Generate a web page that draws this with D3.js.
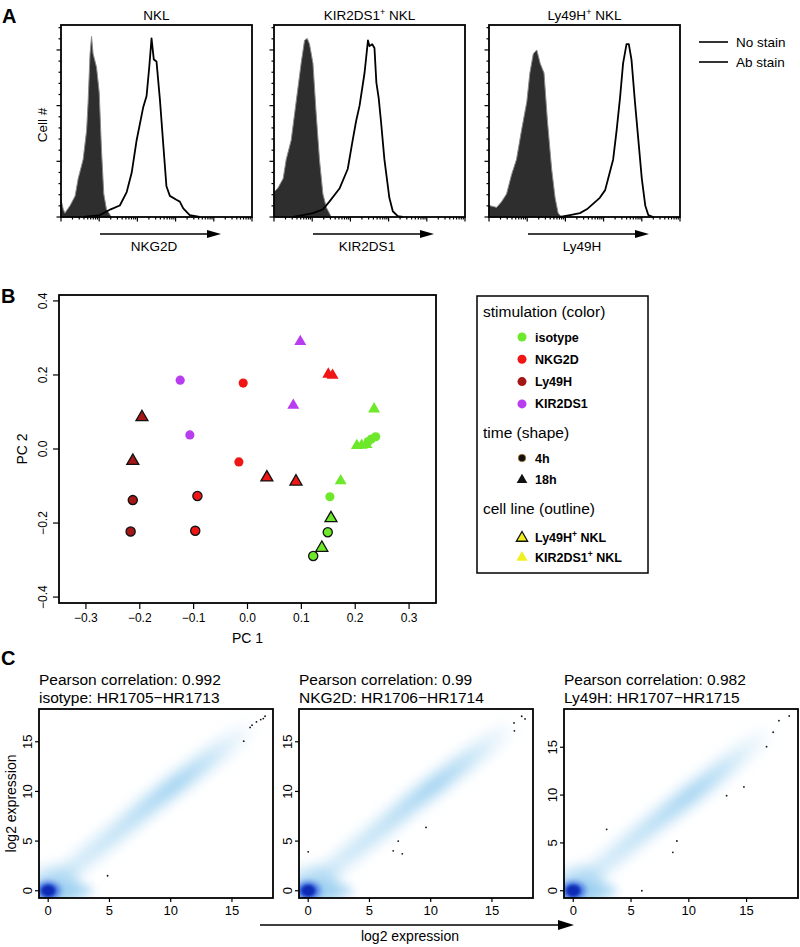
<!DOCTYPE html>
<html><head><meta charset="utf-8">
<script src="https://cdn.jsdelivr.net/npm/d3@7"></script>
<style>body{margin:0;background:#fff}svg{display:block;font-family:"Liberation Sans",Arial,Helvetica,sans-serif}</style>
</head><body><svg id="c" width="800" height="947"></svg>
<script>
// ---------------- DATA ----------------
// Panel A : flow histograms, x in decades (0..5), y in % of panel height
const histTitles = [["NKL",""],["KIR2DS1","+"],["Ly49H","+"]];
const histMarkers = ["NKG2D","KIR2DS1","Ly49H"];
const noStainNKL = [[0,9],[0.06,4],[0.1,2],[0.24,6],[0.37,11],[0.45,20],[0.58,30],[0.67,45],[0.71,60],[0.76,85],[0.8,94],[0.84,85],[0.93,78],[1.0,65],[1.06,35],[1.12,12],[1.19,4],[1.32,0]];
const abStainNKL = [[0.6,0],[1.02,1],[1.3,4],[1.54,6],[1.72,13],[1.85,23],[1.98,40],[2.15,57],[2.24,63],[2.31,78],[2.37,93],[2.43,82],[2.5,81],[2.59,61],[2.68,37],[2.76,16],[2.85,11],[3.02,9],[3.11,8],[3.2,4.5],[3.37,1],[3.63,0]];
const noStainKIR = [[0,13],[0.1,15],[0.24,20],[0.32,30],[0.45,40],[0.58,60],[0.71,80],[0.8,92],[0.87,93],[0.93,90],[1.02,80],[1.1,55],[1.19,30],[1.28,12],[1.37,5],[1.5,0]];
const abStainKIR = [[0.5,0],[0.76,1],[1.02,2],[1.28,4],[1.45,8],[1.72,15],[1.93,25],[2.06,40],[2.15,50],[2.24,58],[2.37,75],[2.46,92],[2.5,89],[2.57,90],[2.63,88],[2.68,70],[2.74,62],[2.8,50],[2.89,30],[3.02,10],[3.11,3],[3.24,0.5],[3.37,0]];
const noStainLy = [[0,6],[0.2,5],[0.33,8],[0.46,12],[0.59,22],[0.72,30],[0.85,45],[0.99,60],[1.07,75],[1.16,85],[1.25,87],[1.34,80],[1.44,75],[1.53,50],[1.64,25],[1.73,10],[1.81,2],[1.9,0]];
const abStainLy = [[1.86,0],[2.12,1],[2.38,2],[2.56,4],[2.73,7],[2.9,10],[3.04,14],[3.12,20],[3.25,30],[3.34,45],[3.43,62],[3.51,80],[3.6,90],[3.66,90],[3.73,82],[3.82,60],[3.91,40],[4.0,20],[4.09,6],[4.17,1],[4.3,0]];
const noStainSeries = [noStainNKL, noStainKIR, noStainLy];
const abStainSeries = [abStainNKL, abStainKIR, abStainLy];
const histLegend = ["No stain","Ab stain"];

// Panel B : PCA
const pc1 = [-0.125,-0.107,0.098,0.085,-0.008,-0.016,0.150,0.158,-0.093,-0.097,0.036,0.090,-0.213,-0.217,-0.196,-0.213,0.149,0.122,0.155,0.138,0.153,0.173,0.235,0.203,0.212,0.221,0.224,0.230,0.238];
const pc2 = [0.186,0.038,0.290,0.118,0.178,-0.035,0.202,0.199,-0.127,-0.221,-0.077,-0.088,-0.138,-0.223,0.086,-0.032,-0.225,-0.289,-0.187,-0.267,-0.129,-0.086,0.108,0.009,0.010,0.012,0.020,0.027,0.033];
const stim = ["KIR2DS1","KIR2DS1","KIR2DS1","KIR2DS1","NKG2D","NKG2D","NKG2D","NKG2D","NKG2D","NKG2D","NKG2D","NKG2D","Ly49H","Ly49H","Ly49H","Ly49H","isotype","isotype","isotype","isotype","isotype","isotype","isotype","isotype","isotype","isotype","isotype","isotype","isotype"];
const time = ["4h","4h","18h","18h","4h","4h","18h","18h","4h","4h","18h","18h","4h","4h","18h","18h","4h","4h","18h","18h","4h","18h","18h","18h","18h","18h","4h","4h","4h"];
const cellLine = ["KIR","KIR","KIR","KIR","KIR","KIR","KIR","KIR","Ly","Ly","Ly","Ly","Ly","Ly","Ly","Ly","Ly","Ly","Ly","Ly","KIR","KIR","KIR","KIR","KIR","KIR","KIR","KIR","KIR"];
const stimLevels = ["isotype","NKG2D","Ly49H","KIR2DS1"];
const stimColors = ["#6ee82a","#f01616","#a51616","#b83cf0"];
const pcTicks = [-0.3,-0.2,-0.1,0.0,0.1,0.2,0.3];
const pc2Ticks = [-0.4,-0.2,0.0,0.2,0.4];

// Panel C : smoothScatter
const corrTitles = ["Pearson correlation: 0.992","Pearson correlation: 0.99","Pearson correlation: 0.982"];
const pairTitles = ["isotype: HR1705\u2212HR1713","NKG2D: HR1706\u2212HR1714","Ly49H: HR1707\u2212HR1715"];
const ssTicks = [0,5,10,15];
// density ridge: [x, y, relative intensity]
const ridge1 = [[0.6,0.8,0.4],[3,3.3,0.42],[6,6.3,0.55],[8.5,8.9,0.72],[10.3,10.6,0.85],[12.5,12.7,0.62],[15,15.1,0.25],[16.8,16.8,0.0]];
const ridge2 = [[0.6,0.8,0.4],[3,3.3,0.42],[6,6.3,0.55],[8.5,8.9,0.72],[10.3,10.6,0.85],[12.5,12.7,0.62],[15,15.1,0.25],[16.8,16.8,0.0]];
const ridge3 = [[0.6,0.7,0.4],[3,3.1,0.42],[6,6.1,0.55],[8.5,8.5,0.72],[10.2,10.1,0.82],[12.5,12.3,0.6],[15,14.8,0.25],[17.3,17.0,0.0]];
const ridges = [ridge1, ridge2, ridge3];
const outliers1 = [[4.85,1.51],[15.96,15.06],[16.48,16.44],[16.64,16.67],[17.0,17.0],[17.35,17.24],[17.7,17.57],[17.56,17.34]];
const outliers2 = [[0,3.92],[6.94,4.02],[7.35,5.0],[7.68,3.72],[9.62,6.38],[16.8,16.9],[16.83,16.1],[17.43,17.57],[17.7,17.3]];
const outliers3 = [[2.89,6.42],[5.94,0.0],[8.62,4.02],[8.97,5.2],[13.27,9.94],[14.77,10.85],[16.73,15.06],[17.3,16.57],[17.8,17.78],[18.69,18.27]];
const outliers = [outliers1, outliers2, outliers3];
const ssXDomains = [[-0.75,18.35],[-0.75,18.35],[-0.8,19.45]];
const ssYDomains = [[-0.73,18.3],[-0.73,18.3],[-0.76,19.0]];

// ---------------- DRAW ----------------
const svg = d3.select("#c");
const defs = svg.append("defs");
function blur(id, sd){
  const f = defs.append("filter").attr("id",id).attr("x","-100%").attr("y","-100%").attr("width","300%").attr("height","300%");
  f.append("feGaussianBlur").attr("stdDeviation",sd);
}
blur("b7",7); blur("b5",5); blur("b3",3); blur("b2",1.8);

function panelLabel(t,x,y){
  svg.append("text").attr("x",x).attr("y",y).attr("font-size",20).attr("font-weight","bold").text(t);
}
panelLabel("A",2,23); panelLabel("B",1,303); panelLabel("C",1,665);

// ===== Panel A =====
const aLefts = [61,274,489], aW = 191, aTop = 25, aBot = 217;
aLefts.forEach((L,i)=>{
  const g = svg.append("g");
  const x = d3.scaleLinear().domain([0,5]).range([L,L+aW]);
  const y = d3.scaleLinear().domain([0,100]).range([aBot,aTop]);
  g.append("path").datum(noStainSeries[i])
    .attr("d",d3.area().x(d=>x(d[0])).y0(y(0)).y1(d=>y(d[1])))
    .attr("fill","#2e2e2e").attr("stroke","#8a8a8a").attr("stroke-width",1);
  g.append("path").datum(abStainSeries[i])
    .attr("d",d3.line().x(d=>x(d[0])).y(d=>y(d[1])))
    .attr("fill","none").attr("stroke","#000").attr("stroke-width",1.8).attr("stroke-linejoin","round");
  g.append("rect").attr("x",L).attr("y",aTop).attr("width",aW).attr("height",aBot-aTop)
    .attr("fill","none").attr("stroke","#000").attr("stroke-width",1.8);
  const xt = [];
  for(let d=0; d<5; d++) for(let k=1;k<10;k++) xt.push({v:d+Math.log10(k),maj:k===1});
  xt.push({v:5,maj:true});
  g.selectAll(null).data(xt).enter().append("line")
    .attr("x1",d=>x(d.v)).attr("x2",d=>x(d.v)).attr("y1",aBot).attr("y2",d=>aBot+(d.maj?4.5:2.5))
    .attr("stroke","#000").attr("stroke-width",1.2);
  const yt = d3.range(0,18).map(k=>({v:k*5.8,maj:k%5===0}));
  g.selectAll(null).data(yt).enter().append("line")
    .attr("x1",L).attr("x2",d=>L-(d.maj?4.5:2.5)).attr("y1",d=>y(d.v)).attr("y2",d=>y(d.v))
    .attr("stroke","#000").attr("stroke-width",1.2);
  const tt = g.append("text").attr("x",L+aW/2).attr("y",20).attr("text-anchor","middle").attr("font-size",13.5);
  tt.append("tspan").text(histTitles[i][0]);
  if(histTitles[i][1]){
    tt.append("tspan").attr("dy",-5).attr("font-size",9).text(histTitles[i][1]);
    tt.append("tspan").attr("dy",5).text(" NKL");
  }
  g.append("line").attr("x1",L+39).attr("x2",L+148).attr("y1",234).attr("y2",234).attr("stroke","#000").attr("stroke-width",1.6);
  g.append("path").attr("d",`M${L+146},230L${L+160},234L${L+146},238Z`).attr("fill","#000");
  g.append("text").attr("x",L+93).attr("y",251).attr("text-anchor","middle").attr("font-size",13.5).text(histMarkers[i]);
});
svg.append("text").attr("transform","translate(47,125) rotate(-90)").attr("text-anchor","middle").attr("font-size",13.5).text("Cell #");
histLegend.forEach((t,i)=>{
  const yy = 42+i*20;
  svg.append("line").attr("x1",699).attr("x2",728).attr("y1",yy).attr("y2",yy).attr("stroke","#000").attr("stroke-width",1.6);
  svg.append("text").attr("x",736).attr("y",yy+4.5).attr("font-size",13.5).text(t);
});

// ===== Panel B =====
const bx = d3.scaleLinear().domain([-0.35,0.35]).range([59,436]);
const by = d3.scaleLinear().domain([-0.416,0.416]).range([603,295]);
const col = d3.scaleOrdinal().domain(stimLevels).range(stimColors);
const fmt = v => (v<0?"\u2212":"")+Math.abs(v).toFixed(1);
svg.append("g").selectAll(null).data(pcTicks).enter().append("line")
  .attr("x1",d=>bx(d)).attr("x2",d=>bx(d)).attr("y1",603).attr("y2",609).attr("stroke","#000").attr("stroke-width",1.2);
svg.append("g").selectAll(null).data(pcTicks).enter().append("text")
  .attr("x",d=>bx(d)).attr("y",622).attr("text-anchor","middle").attr("font-size",12).text(fmt);
svg.append("g").selectAll(null).data(pc2Ticks).enter().append("line")
  .attr("x1",59).attr("x2",53).attr("y1",d=>by(d)).attr("y2",d=>by(d)).attr("stroke","#000").attr("stroke-width",1.2);
svg.append("g").selectAll(null).data(pc2Ticks).enter().append("text")
  .attr("transform",d=>`translate(47,${by(d)}) rotate(-90)`).attr("text-anchor","middle").attr("font-size",12).text(fmt);
svg.append("text").attr("x",bx(0)).attr("y",643).attr("text-anchor","middle").attr("font-size",14).text("PC 1");
svg.append("text").attr("transform",`translate(27,${by(0)}) rotate(-90)`).attr("text-anchor","middle").attr("font-size",14).text("PC 2");
const pts = pc1.map((v,i)=>({x:v,y:pc2[i],s:stim[i],t:time[i],l:cellLine[i]}));
const sym = d => d.t==="4h" ? d3.symbol(d3.symbolCircle,66)() : d3.symbol(d3.symbolTriangle,62)();
svg.append("g").selectAll(null).data(pts).enter().append("path")
  .attr("transform",d=>`translate(${bx(d.x)},${by(d.y)})`)
  .attr("d",sym).attr("fill",d=>col(d.s))
  .attr("stroke",d=>d.l==="Ly"?"#111":"none").attr("stroke-width",1.3);
svg.append("rect").attr("x",59).attr("y",295).attr("width",377).attr("height",308).attr("fill","none").attr("stroke","#000").attr("stroke-width",1.8);

// legend B
const lg = svg.append("g");
lg.append("rect").attr("x",477).attr("y",296).attr("width",171).attr("height",277).attr("fill","none").attr("stroke","#000").attr("stroke-width",1.5);
const hdr = (t,y)=>lg.append("text").attr("x",483).attr("y",y).attr("font-size",15.5).text(t);
hdr("stimulation (color)",317);
stimLevels.forEach((s,i)=>{
  const yy = 337+i*22.3;
  lg.append("circle").attr("cx",522).attr("cy",yy).attr("r",4.5).attr("fill",stimColors[i]);
  lg.append("text").attr("x",535).attr("y",yy+4.5).attr("font-size",12.5).attr("font-weight","bold").text(s);
});
hdr("time (shape)",438);
lg.append("circle").attr("cx",522).attr("cy",458).attr("r",3.8).attr("fill","#111").attr("stroke","#c58a2a").attr("stroke-width",0.6);
lg.append("text").attr("x",535).attr("y",462.5).attr("font-size",12.5).attr("font-weight","bold").text("4h");
lg.append("path").attr("transform","translate(522,480)").attr("d",d3.symbol(d3.symbolTriangle,50)()).attr("fill","#111");
lg.append("text").attr("x",535).attr("y",484).attr("font-size",12.5).attr("font-weight","bold").text("18h");
hdr("cell line (outline)",514);
[["Ly49H",true],["KIR2DS1",false]].forEach((c,i)=>{
  const yy = 537+i*19.5;
  lg.append("path").attr("transform",`translate(522,${yy+1})`).attr("d",d3.symbol(d3.symbolTriangle,55)())
    .attr("fill","#f0f020").attr("stroke",c[1]?"#111":"none").attr("stroke-width",1.3);
  const t = lg.append("text").attr("x",535).attr("y",yy+5).attr("font-size",12.5).attr("font-weight","bold");
  t.append("tspan").text(c[0]);
  t.append("tspan").attr("dy",-5).attr("font-size",8.5).text("+");
  t.append("tspan").attr("dy",5).text(" NKL");
});

// ===== Panel C =====
const cLefts = [39,299,564], cW = 234, cTop = 709, cBot = 898;
cLefts.forEach((L,i)=>{
  const x = d3.scaleLinear().domain(ssXDomains[i]).range([L,L+cW]);
  const y = d3.scaleLinear().domain(ssYDomains[i]).range([cBot,cTop]);
  const cid = "clip"+i;
  defs.append("clipPath").attr("id",cid).append("rect").attr("x",L).attr("y",cTop).attr("width",cW).attr("height",cBot-cTop);
  const g = svg.append("g").attr("clip-path",`url(#${cid})`);
  const rp = ridges[i].map(d=>[x(d[0]),y(d[1]),d[2]]);
  const s = rp[0], e = rp[rp.length-1];
  const vx = e[0]-s[0], vy = e[1]-s[1], vl = vx*vx+vy*vy;
  const gid = "rg"+i;
  const grad = defs.append("linearGradient").attr("id",gid).attr("gradientUnits","userSpaceOnUse")
    .attr("x1",s[0]).attr("y1",s[1]).attr("x2",e[0]).attr("y2",e[1]);
  rp.forEach(p=>{
    grad.append("stop").attr("offset",((p[0]-s[0])*vx+(p[1]-s[1])*vy)/vl)
      .attr("stop-color","#8fcaee").attr("stop-opacity",p[2]);
  });
  g.append("path").attr("d",d3.line()(rp.map(p=>[p[0],p[1]]))).attr("fill","none")
    .attr("stroke",`url(#${gid})`).attr("stroke-width",18).attr("filter","url(#b7)");
  const ox = x(0), oy = y(0);
  g.append("ellipse").attr("cx",ox+6).attr("cy",oy-3).attr("rx",26).attr("ry",20).attr("fill","#9cd0f0").attr("opacity",0.7).attr("filter","url(#b7)");
  g.append("ellipse").attr("cx",x(1.6)).attr("cy",oy).attr("rx",26).attr("ry",7).attr("fill","#8cc8ee").attr("opacity",0.6).attr("filter","url(#b5)");
  g.append("ellipse").attr("cx",ox).attr("cy",oy).attr("rx",12).attr("ry",9).attr("fill","#3a6be0").attr("filter","url(#b3)");
  g.append("ellipse").attr("cx",ox).attr("cy",oy).attr("rx",7).attr("ry",6).attr("fill","#0d2bb5").attr("filter","url(#b2)");
  g.selectAll(null).data(outliers[i]).enter().append("circle")
    .attr("cx",d=>x(d[0])).attr("cy",d=>y(d[1])).attr("r",0.9).attr("fill","#111");
  svg.append("rect").attr("x",L).attr("y",cTop).attr("width",cW).attr("height",cBot-cTop).attr("fill","none").attr("stroke","#000").attr("stroke-width",1.8);
  svg.append("g").selectAll(null).data(ssTicks).enter().append("line")
    .attr("x1",d=>x(d)).attr("x2",d=>x(d)).attr("y1",cBot).attr("y2",cBot+4).attr("stroke","#000").attr("stroke-width",1.2);
  svg.append("g").selectAll(null).data(ssTicks).enter().append("text")
    .attr("x",d=>x(d)).attr("y",915).attr("text-anchor","middle").attr("font-size",13).text(d=>d);
  svg.append("g").selectAll(null).data(ssTicks).enter().append("line")
    .attr("x1",L).attr("x2",L-4).attr("y1",d=>y(d)).attr("y2",d=>y(d)).attr("stroke","#000").attr("stroke-width",1.2);
  svg.append("g").selectAll(null).data(ssTicks).enter().append("text")
    .attr("transform",d=>`translate(${L-7},${y(d)}) rotate(-90)`).attr("text-anchor","middle").attr("font-size",13).text(d=>d);
  svg.append("text").attr("x",L).attr("y",685).attr("font-size",15.5).text(corrTitles[i]);
  svg.append("text").attr("x",L).attr("y",703).attr("font-size",15.5).text(pairTitles[i]);
});
svg.append("text").attr("transform",`translate(16,${(cTop+cBot)/2}) rotate(-90)`).attr("text-anchor","middle").attr("font-size",14).text("log2 expression");
svg.append("line").attr("x1",260).attr("x2",562).attr("y1",925).attr("y2",925).attr("stroke","#000").attr("stroke-width",1.6);
svg.append("path").attr("d","M558,920L574,925L558,930Z").attr("fill","#000");
svg.append("text").attr("x",410).attr("y",941).attr("text-anchor","middle").attr("font-size",14).text("log2 expression");
</script></body></html>
